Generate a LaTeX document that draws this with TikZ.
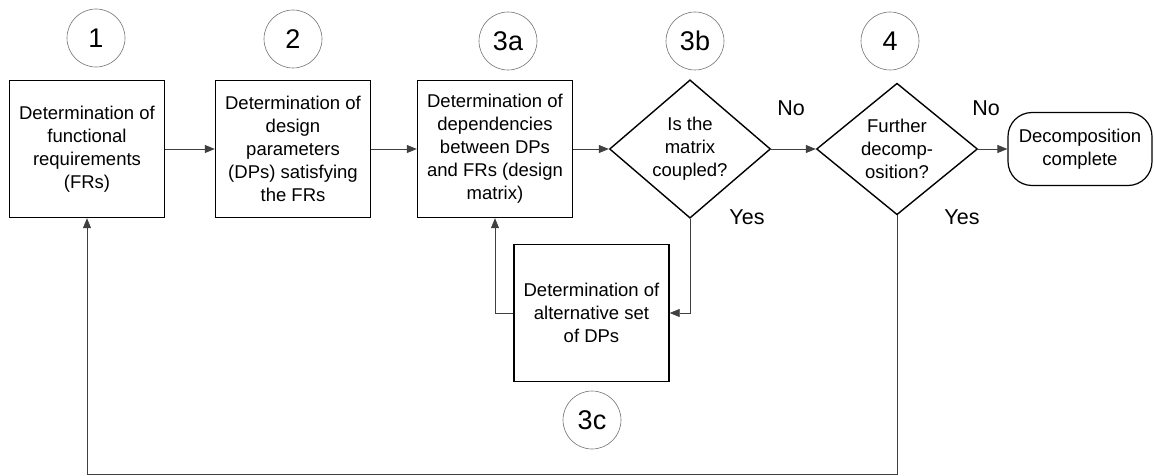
\documentclass[tikz,border=0pt]{standalone}
\usepackage{fontspec}
\setmainfont{Liberation Sans}
\usetikzlibrary{shapes.geometric,arrows.meta}
\begin{document}
\begin{tikzpicture}[x=1pt,y=-1pt,
  txt/.style={font=\fontsize{18.5}{23}\selectfont, align=center, inner sep=0pt},
  stepbox/.style={txt, draw, line width=1.4pt, minimum width=155pt, minimum height=137pt},
  decision/.style={txt, draw, shape=diamond, line width=1.4pt, minimum width=161pt, minimum height=125pt},
  terminal/.style={txt, draw, line width=1.2pt, rounded corners=24pt, minimum width=144pt, minimum height=73pt},
  stage/.style={circle, draw=black!55, line width=0.6pt, minimum size=58pt, inner sep=0pt, font=\fontsize{27}{27}\selectfont},
  answer/.style={inner sep=0pt, font=\fontsize{21.5}{21.5}\selectfont},
  conn/.style={draw=black!75, line width=0.8pt, -{Triangle[length=10pt,width=8pt]}}
]
\useasboundingbox (0,0) rectangle (1154,476);

% process steps
\node[stepbox] (b1) at (87,149) {Determination of\\functional\\requirements\\(FRs)};
\node[stepbox] (b2) at (293,149) {Determination of\\design\\parameters\\(DPs) satisfying\\the FRs};
\node[stepbox] (b3a) at (495,149) {Determination of\\dependencies\\between DPs\\and FRs (design\\matrix)};
\node[decision] (d3b) at (690,149) {Is the\\matrix\\coupled?};
\node[decision] (d4) at (897,149) {Further\\decomp-\\osition?};
\node[terminal] (term) at (1080,149) {Decomposition\\complete};
\node[stepbox] (b3c) at (591.5,313) {Determination of\\alternative set\\of DPs};

% stage numbers
\node[stage] (c1) at (96,38) {1};
\node[stage] (c2) at (293,39) {2};
\node[stage] (c3a) at (508,41) {3a};
\node[stage] (c3b) at (695,41) {3b};
\node[stage] (c4) at (890,41) {4};
\node[stage] (c3c) at (592,420) {3c};

% branch answers
\node[answer] (no1) at (791,108) {No};
\node[answer] (no2) at (986,108) {No};
\node[answer] (yes1) at (747,217) {Yes};
\node[answer] (yes2) at (962,217) {Yes};

% flow
\draw[conn] (b1.east) -- (b2.west);
\draw[conn] (b2.east) -- (b3a.west);
\draw[conn] (b3a.east) -- (d3b.west);
\draw[conn] (d3b.east) -- (d4.west);
\draw[conn] (d4.east) -- (term.west);
\draw[conn] (d3b.south) |- (b3c.east);
\draw[conn] (b3c.west) -| (b3a.south);
\coordinate (loopcorner) at (897,474.5);
\draw[conn] (d4.south) -- (loopcorner) -| (b1.south);
\end{tikzpicture}
\end{document}
